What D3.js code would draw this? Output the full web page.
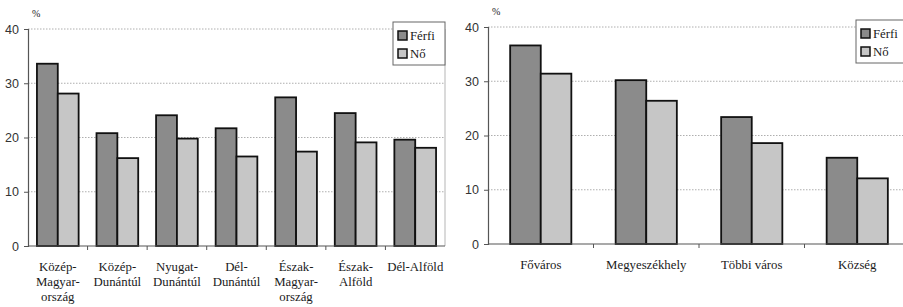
<!DOCTYPE html>
<html>
<head>
<meta charset="utf-8">
<script src="https://cdn.jsdelivr.net/npm/d3@7"></script>
<style>
body { margin: 0; background: #fff; }
svg { display: block; }
</style>
</head>
<body>
<svg id="view" width="903" height="307"></svg>
<script>
'use strict';

// data
const series = ["Férfi", "Nő"];

const regions = ["Közép-\nMagyar-\nország", "Közép-\nDunántúl", "Nyugat-\nDunántúl",
	"Dél-\nDunántúl", "Észak-\nMagyar-\nország", "Észak-\nAlföld", "Dél-Alföld"];
const regionMen = [33.6, 20.8, 24.1, 21.7, 27.4, 24.5, 19.6];
const regionWomen = [28.1, 16.2, 19.8, 16.5, 17.4, 19.1, 18.1];

const places = ["Főváros", "Megyeszékhely", "Többi város", "Község"];
const placeMen = [36.6, 30.2, 23.4, 15.9];
const placeWomen = [31.4, 26.4, 18.6, 12.1];

const yTicks = [0, 10, 20, 30, 40];

const colors = {"Férfi": "#8b8b8b", "Nő": "#c6c6c6"};

const SERIF = "Liberation Serif";
const SANS = "Liberation Sans";

const svg = d3.select("#view");

const serifText = sel => sel
	.style("font-family", SERIF).style("font-size", "12.8px").attr("fill", "#1a1a1a");

const drawChart = ({cats, men, women, x0, x1, y0, yTop, padIn, padOut, legendX}) => {
	const g = svg.append("g");
	const rows = cats.map((c, i) => ({cat: c, values: [men[i], women[i]]}));

	const x = d3.scaleBand().domain(cats).range([x0, x1])
		.paddingInner(padIn).paddingOuter(padOut);
	const xs = d3.scaleBand().domain(series).range([0, x.bandwidth()]);
	const y = d3.scaleLinear().domain([0, 40]).range([y0, yTop]);

	// grid
	g.selectAll(".grid").data(yTicks.filter(t => t > 0)).join("line")
		.attr("x1", x0).attr("x2", x1)
		.attr("y1", d => y(d)).attr("y2", d => y(d))
		.attr("stroke", "#9a9a9a").attr("stroke-width", 0.8)
		.attr("stroke-dasharray", "1.5,1.5");

	// right border
	g.append("line").attr("x1", x1).attr("x2", x1).attr("y1", yTop).attr("y2", y0)
		.attr("stroke", "#b5b5b5").attr("stroke-width", 1);

	// bars
	const grp = g.selectAll(".grp").data(rows).join("g")
		.attr("transform", d => `translate(${x(d.cat)},0)`);
	grp.selectAll("rect").data(d => d.values.map((v, i) => ({s: series[i], v}))).join("rect")
		.attr("x", d => xs(d.s))
		.attr("y", d => y(d.v))
		.attr("width", xs.bandwidth())
		.attr("height", d => y(0) - y(d.v))
		.attr("fill", d => colors[d.s])
		.attr("stroke", "#111").attr("stroke-width", 1.8);

	// y axis
	const ya = g.append("g").attr("transform", `translate(${x0},0)`)
		.call(d3.axisLeft(y).tickValues(yTicks).tickSize(4).tickPadding(5));
	ya.select(".domain").attr("stroke", "#555").attr("stroke-width", 1.2);
	ya.selectAll(".tick line").attr("stroke", "#555");
	ya.selectAll(".tick text").attr("fill", "#333")
		.style("font-family", SANS).style("font-size", "12.5px");

	g.append("text").attr("x", x0 + 4).attr("y", yTop - 12)
		.call(serifText).style("font-size", "10px").text("%");

	// x axis
	g.append("line").attr("x1", x0).attr("x2", x1).attr("y1", y0).attr("y2", y0)
		.attr("stroke", "#555").attr("stroke-width", 1.2);
	const bounds = cats.map(c => x(c) - x.step() * x.paddingInner() / 2).slice(1);
	g.selectAll(".xt").data(bounds).join("line")
		.attr("x1", d => d).attr("x2", d => d).attr("y1", y0).attr("y2", y0 + 4)
		.attr("stroke", "#555");

	const labels = g.selectAll(".lab").data(cats).join("text")
		.call(serifText).attr("text-anchor", "middle")
		.attr("transform", d => `translate(${x(d) + x.bandwidth() / 2},${y0 + 25})`);
	labels.selectAll("tspan").data(d => d.split("\n")).join("tspan")
		.attr("x", 0).attr("dy", (d, i) => i === 0 ? 0 : 15).text(d => d);

	// legend
	const lg = g.append("g").attr("transform", `translate(${legendX},${yTop - 7})`);
	lg.append("rect").attr("width", 52).attr("height", 43)
		.attr("fill", "#fff").attr("stroke", "#666").attr("stroke-width", 1);
	const li = lg.selectAll(".li").data(series).join("g")
		.attr("transform", (d, i) => `translate(5,${9 + i * 18})`);
	li.append("rect").attr("width", 9).attr("height", 9)
		.attr("fill", d => colors[d]).attr("stroke", "#111").attr("stroke-width", 1.5);
	li.append("text").attr("x", 12).attr("y", 9).call(serifText).text(d => d);
};

drawChart({cats: regions, men: regionMen, women: regionWomen,
	x0: 28, x1: 445, y0: 246, yTop: 29, padIn: 0.3, padOut: 0.15, legendX: 393});

drawChart({cats: places, men: placeMen, women: placeWomen,
	x0: 488, x1: 910, y0: 244, yTop: 27, padIn: 0.42, padOut: 0.21, legendX: 856});
</script>
</body>
</html>
